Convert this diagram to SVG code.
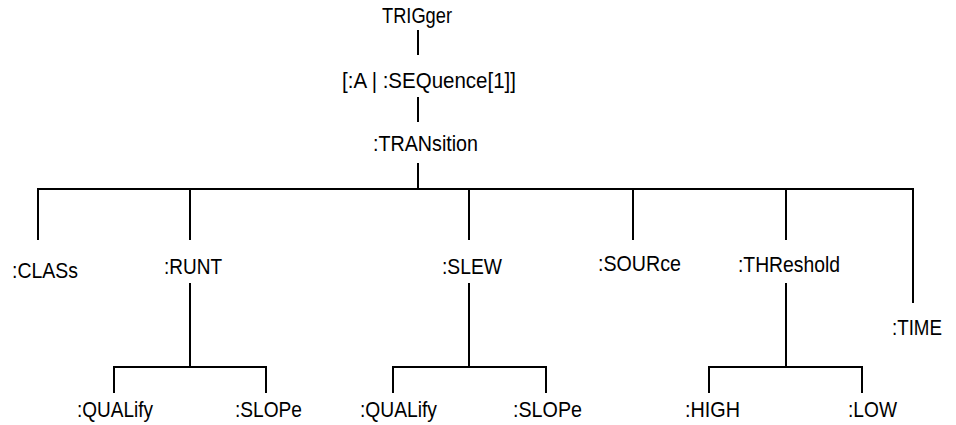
<svg xmlns="http://www.w3.org/2000/svg" width="956" height="425" viewBox="0 0 956 425">
<style>
text{font-family:"Liberation Sans",Arial,sans-serif;font-size:22.5px;fill:#000}
.c line{stroke:#000;stroke-width:2;fill:none}
</style>
<rect width="956" height="425" fill="#fff"/>
<g class="c" id="connectors">
<line x1="418" y1="30" x2="418" y2="55"/>
<line x1="418" y1="97" x2="418" y2="122"/>
<line x1="418" y1="163" x2="418" y2="189"/>
<line x1="37" y1="189" x2="914" y2="189"/>
<line x1="38" y1="189" x2="38" y2="240"/>
<line x1="190" y1="189" x2="190" y2="240"/>
<line x1="469" y1="189" x2="469" y2="240"/>
<line x1="633" y1="189" x2="633" y2="240"/>
<line x1="786" y1="189" x2="786" y2="240"/>
<line x1="913" y1="188" x2="913" y2="303"/>
<line x1="190" y1="283" x2="190" y2="367"/>
<line x1="113" y1="367" x2="267" y2="367"/>
<line x1="114" y1="366" x2="114" y2="393"/>
<line x1="266" y1="366" x2="266" y2="393"/>
<line x1="469" y1="283" x2="469" y2="367"/>
<line x1="392" y1="367" x2="547" y2="367"/>
<line x1="393" y1="366" x2="393" y2="393"/>
<line x1="546" y1="366" x2="546" y2="393"/>
<line x1="786" y1="283" x2="786" y2="367"/>
<line x1="708" y1="367" x2="863" y2="367"/>
<line x1="709" y1="366" x2="709" y2="393"/>
<line x1="862" y1="366" x2="862" y2="393"/>
</g>
<g id="trigger"><text x="382" y="23" textLength="70" lengthAdjust="spacingAndGlyphs">TRIGger</text></g>
<g id="seq"><text x="342" y="88" textLength="174" lengthAdjust="spacingAndGlyphs">[:A | :SEQuence[1]]</text></g>
<g id="transition"><text x="373" y="151" textLength="105" lengthAdjust="spacingAndGlyphs">:TRANsition</text></g>
<g id="class"><text x="12" y="278" textLength="66" lengthAdjust="spacingAndGlyphs">:CLASs</text></g>
<g id="runt"><text x="164" y="274" textLength="58" lengthAdjust="spacingAndGlyphs">:RUNT</text></g>
<g id="slew"><text x="442" y="274" textLength="60" lengthAdjust="spacingAndGlyphs">:SLEW</text></g>
<g id="source"><text x="598" y="271" textLength="83" lengthAdjust="spacingAndGlyphs">:SOURce</text></g>
<g id="threshold"><text x="738" y="272" textLength="102" lengthAdjust="spacingAndGlyphs">:THReshold</text></g>
<g id="time"><text x="892" y="335" textLength="50" lengthAdjust="spacingAndGlyphs">:TIME</text></g>
<g id="runt-qualify"><text x="77" y="417" textLength="76" lengthAdjust="spacingAndGlyphs">:QUALify</text></g>
<g id="runt-slope"><text x="235" y="417" textLength="67" lengthAdjust="spacingAndGlyphs">:SLOPe</text></g>
<g id="slew-qualify"><text x="360" y="417" textLength="77" lengthAdjust="spacingAndGlyphs">:QUALify</text></g>
<g id="slew-slope"><text x="513" y="417" textLength="69" lengthAdjust="spacingAndGlyphs">:SLOPe</text></g>
<g id="high"><text x="685" y="417" textLength="55" lengthAdjust="spacingAndGlyphs">:HIGH</text></g>
<g id="low"><text x="848" y="417" textLength="49" lengthAdjust="spacingAndGlyphs">:LOW</text></g>
</svg>
